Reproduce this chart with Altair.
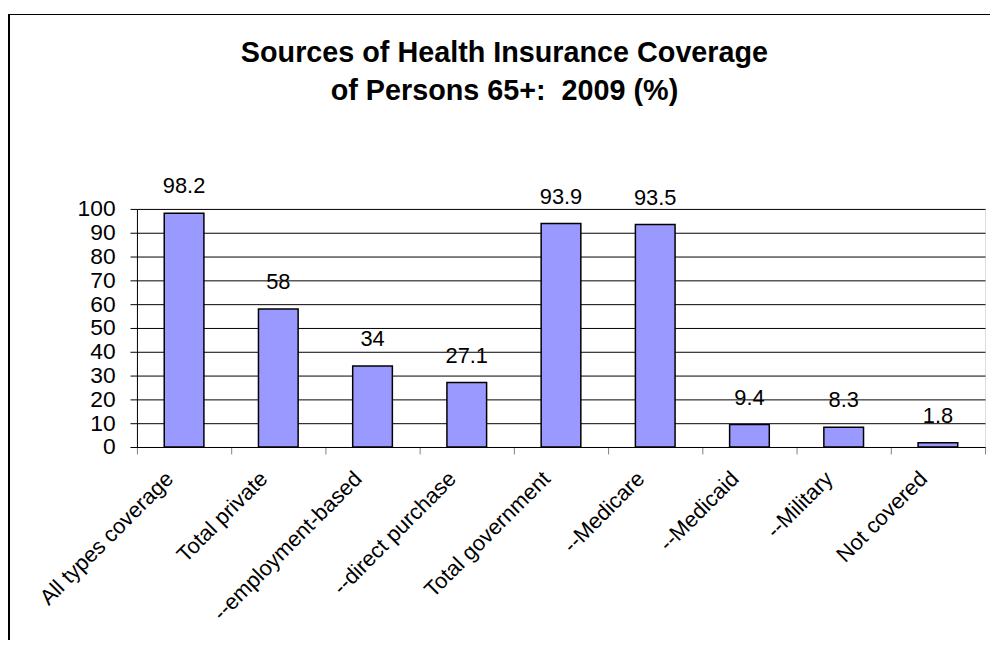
import altair as alt
import pandas as pd

categories = ["All types coverage", "Total private", "--employment-based", "--direct purchase",
              "Total government", "--Medicare", "--Medicaid", "--Military", "Not covered"]
values = [98.2, 58, 34, 27.1, 93.9, 93.5, 9.4, 8.3, 1.8]
y_ticks = [0, 10, 20, 30, 40, 50, 60, 70, 80, 90, 100]
title_lines = ["Sources of Health Insurance Coverage", "of Persons 65+:\u00a0 2009 (%)"]

df = pd.DataFrame({
    "cat": categories,
    "val": values,
    "label": [f"{v:g}" for v in values],
})

FONT = "Liberation Sans"

x_enc = alt.X("cat:N", sort=categories, title=None,
              scale=alt.Scale(paddingInner=0, paddingOuter=0),
              axis=alt.Axis(labelAngle=-45, labelAlign="right", labelBaseline="top",
                            labelFontSize=22, labelFont=FONT, labelColor="black",
                            labelPadding=14, labelOffset=-22, labelLimit=0,
                            labelOverlap=False,
                            tickBand="extent", tickSize=7, tickColor="#808080",
                            domainColor="black", grid=False))
y_enc = alt.Y("val:Q", title=None,
              scale=alt.Scale(domain=[0, 100], nice=False),
              axis=alt.Axis(values=y_ticks, labelFontSize=23, labelFont=FONT, labelColor="black",
                            labelPadding=15, tickSize=7, tickColor="black", labelOverlap=False,
                            domainColor="black", gridColor="black", gridOpacity=1, grid=True))

frame = alt.Chart(df).mark_rect(fill=None, stroke="black", strokeWidth=1.2).encode(
    x=alt.value(-129), x2=alt.value(880), y=alt.value(-196), y2=alt.value(460)
)

bars = alt.Chart(df).mark_bar(size=40, color="#9999FF", stroke="black", strokeWidth=1.5).encode(
    x=x_enc, y=y_enc
)

labels = alt.Chart(df).mark_text(fontSize=22, font=FONT, color="black", baseline="middle",
                                 dy=-27).encode(
    x=x_enc,
    y=y_enc,
    text="label:N",
)

chart = alt.layer(frame, bars, labels).properties(
    width=855, height=240,
    autosize=alt.AutoSizeParams(type="none"),
    padding={"left": 130, "top": 200, "right": 5, "bottom": 192},
    title=alt.TitleParams(title_lines, fontSize=29, font=FONT, fontWeight="bold",
                          color="black", lineHeight=39, anchor="middle", dx=-57, offset=-93),
).configure_view(stroke="black", strokeWidth=1).configure(background="white")

chart.save("out.html", embed_options={"renderer": "svg", "actions": False})
